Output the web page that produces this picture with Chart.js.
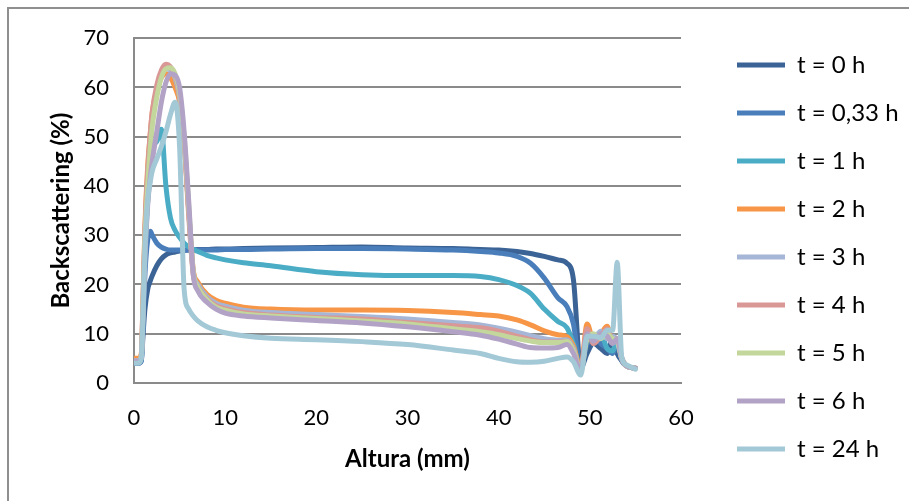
<!DOCTYPE html>
<html>
<head>
<meta charset="utf-8">
<script src="https://cdn.jsdelivr.net/npm/chart.js@4.4.0/dist/chart.umd.min.js"></script>
<style>
  html, body { margin: 0; padding: 0; background: #fff; }
  #wrap { position: relative; width: 909px; height: 501px; overflow: hidden; }
  #frame { position: absolute; left: 7px; top: 7px; width: 940px; height: 540px; border: 2px solid #8f8f8f; }
  #myChart { position: absolute; left: 0; top: 0; }
</style>
</head>
<body>
<div id="wrap">
  <div id="frame"></div>
  <canvas id="myChart" width="909" height="501"></canvas>
</div>
<script>
// altura (mm)
const altura = [0, 0.5, 0.8, 1, 1.2, 1.5, 1.8, 2, 2.5, 3, 3.5, 4, 4.5, 5, 5.5, 6, 6.5, 7, 8, 9,
  10, 12, 15, 20, 25, 30, 35, 38, 40, 42, 43.5, 45, 46.5, 47.5, 48.2, 49, 49.7, 50.4, 51.2, 51.9,
  52.5, 53, 53.5, 54, 55];

// backscattering (%) por tempo
const bs0h = [4, 4, 4.5, 10, 15, 19, 20.8, 21.8, 23.8, 25.2, 26, 26.4, 26.6, 26.8, 26.9, 27, 27, 27.1, 27.1, 27.2,
  27.2, 27.3, 27.4, 27.5, 27.6, 27.4, 27.3, 27.1, 27, 26.7, 26.3, 25.7, 25, 24.3, 21, 3, 6, 8, 7, 6,
  9, 6, 4.5, 3.5, 3];
const bs033h = [4, 4, 4.5, 12, 22, 29, 30.8, 30, 28.4, 27.6, 27.2, 27, 27, 27, 27, 27, 27, 27, 27, 27,
  27.1, 27.1, 27.2, 27.3, 27.3, 27.2, 27, 26.7, 26.4, 25.7, 24.3, 21.3, 17.3, 15.5, 12, 3, 8, 9.5, 8, 7,
  6, 8, 4.5, 3.5, 3];
const bs1h = [4.5, 4.5, 5, 14, 26, 37, 44, 47.5, 49, 51.5, 40, 33.5, 31, 29.6, 28.4, 27.6, 27.1, 26.7, 25.9, 25.4,
  25, 24.4, 23.8, 22.6, 22, 21.8, 21.8, 21.6, 21, 19.8, 18.2, 15, 12.5, 11.2, 8, 3, 9, 8.5, 10, 7,
  6.5, 9, 5, 3.5, 3];
const bs2h = [5, 5, 6, 18, 32, 44, 51, 55, 59.5, 62, 62.8, 62, 60, 57, 49, 35, 23, 20.5, 18, 16.8,
  16.2, 15.4, 15, 14.8, 14.8, 14.7, 14.3, 13.9, 13.6, 12.8, 11.8, 10.6, 9.8, 9.4, 7.5, 3, 12, 8.7, 10, 11.5,
  8.3, 9, 5, 3.5, 3];
const bs3h = [4.5, 4.5, 5.5, 17, 30, 42, 50, 54, 59.5, 62.5, 63.8, 63.5, 62, 58, 49, 35, 22.5, 20, 17.5, 16.2,
  15.6, 14.8, 14.3, 13.9, 13.5, 13, 12.3, 11.8, 11.1, 10.3, 9.6, 9, 8.7, 8.8, 7, 2.5, 10, 9, 10.5, 9,
  9.5, 8.5, 5, 3.5, 3];
const bs4h = [4.5, 4.5, 5.5, 17.5, 31, 43, 51, 55, 60.5, 63.5, 64.7, 64.2, 62.5, 58.5, 49, 34, 22, 19.5, 17.1, 15.7,
  15.1, 14.3, 13.8, 13.3, 13, 12.3, 11.6, 11.2, 10.5, 9.5, 8.8, 8.3, 8.3, 8.5, 6.5, 2.5, 11, 8, 9.5, 11,
  8.5, 9, 5, 3.5, 3];
const bs5h = [4.5, 4.5, 5.5, 16, 29, 40, 48, 52, 58, 62, 63.8, 64, 62.8, 59, 50, 36, 22.5, 19.5, 16.9, 15.4,
  14.8, 14, 13.6, 13.1, 12.6, 12, 11, 10.4, 9.8, 9, 8.5, 8.2, 8.2, 8.4, 6.5, 2.5, 9, 10, 9, 10,
  9, 8.5, 5, 3.5, 3];
const bs6h = [4.5, 4.5, 5, 14, 25, 36, 42, 45, 51, 57, 61, 62.8, 62.5, 60, 51, 37, 22, 18.7, 16.4, 15,
  14.2, 13.6, 13.2, 12.7, 12.2, 11.4, 10.4, 9.7, 8.9, 7.9, 7.2, 7.1, 7.2, 7.8, 6, 2.5, 10, 8.5, 10, 9.5,
  8, 9, 5, 3.5, 3];
const bs24h = [4, 4, 5, 14, 27, 37, 41, 43, 45.5, 48, 51, 54.5, 57, 48, 19, 15, 13.6, 12.6, 11.4, 10.7,
  10.2, 9.6, 9.1, 8.8, 8.4, 7.8, 6.7, 6, 5, 4.3, 4.2, 4.4, 5, 5.3, 4.3, 1.6, 9.5, 9.5, 9.2, 10.7,
  10.7, 24.5, 5.3, 3.7, 2.8];

const rotulos = ['t = 0 h', 't = 0,33 h', 't = 1 h', 't = 2 h', 't = 3 h', 't = 4 h', 't = 5 h', 't = 6 h', 't = 24 h'];
const series = [bs0h, bs033h, bs1h, bs2h, bs3h, bs4h, bs5h, bs6h, bs24h];
const cores = ['#3B6395', '#4A7EBB', '#4BACC6', '#F79646', '#A5B6D6', '#D99795', '#C3D69C', '#B2A3C6', '#A3C8D6'];

Chart.defaults.font.family = 'Lato, "Liberation Sans", sans-serif';
Chart.defaults.color = '#000';

// move a legenda para a coluna da direita
const legendaPos = {
  id: 'legendaPos',
  afterLayout(chart) {
    const lg = chart.legend;
    lg.left = 713; lg.right = 909; lg.width = 196;
    lg.top = 29; lg.bottom = 501; lg.height = 472;
  }
};

const ctx = document.getElementById('myChart');

new Chart(ctx, {
  type: 'line',
  data: {
    datasets: series.map((s, i) => ({
      label: rotulos[i],
      data: altura.map((x, j) => ({ x: x, y: s[j] })),
      borderColor: cores[i],
      backgroundColor: cores[i],
      borderWidth: 5,
      borderCapStyle: 'round',
      borderJoinStyle: 'round',
      pointRadius: 0,
      cubicInterpolationMode: 'monotone',
      order: -i
    }))
  },
  options: {
    responsive: false,
    animation: false,
    layout: { padding: { left: 0, top: 38, right: 78, bottom: 0 } },
    plugins: {
      tooltip: { enabled: false },
      legend: {
        position: 'right',
        align: 'start',
        maxWidth: 150,
        labels: {
          usePointStyle: true,
          pointStyle: 'line',
          pointStyleWidth: 48,
          padding: 24,
          font: { size: 24 },
          sort: (a, b) => a.datasetIndex - b.datasetIndex
        }
      }
    },
    scales: {
      x: {
        type: 'linear',
        min: 0,
        max: 60,
        ticks: { stepSize: 10, padding: 22, font: { size: 22 } },
        grid: { display: false, drawTicks: false },
        border: { display: true, color: '#8a8a8a', width: 2 },
        title: { display: true, text: 'Altura (mm)', font: { size: 24, weight: 'bold' }, padding: { top: 0, bottom: 27 } },
        afterFit(scale) { scale.height = 118; }
      },
      y: {
        min: 0,
        max: 70,
        ticks: { stepSize: 10, padding: 25, font: { size: 22 } },
        grid: { color: '#8a8a8a', lineWidth: 2, drawTicks: false },
        border: { display: true, color: '#8a8a8a', width: 2 },
        title: { display: true, text: 'Backscattering (%)', font: { size: 24, weight: 'bold' }, padding: { top: 47, bottom: 0 } },
        afterFit(scale) { scale.width = 134; }
      }
    }
  },
  plugins: [legendaPos]
});
</script>
</body>
</html>
